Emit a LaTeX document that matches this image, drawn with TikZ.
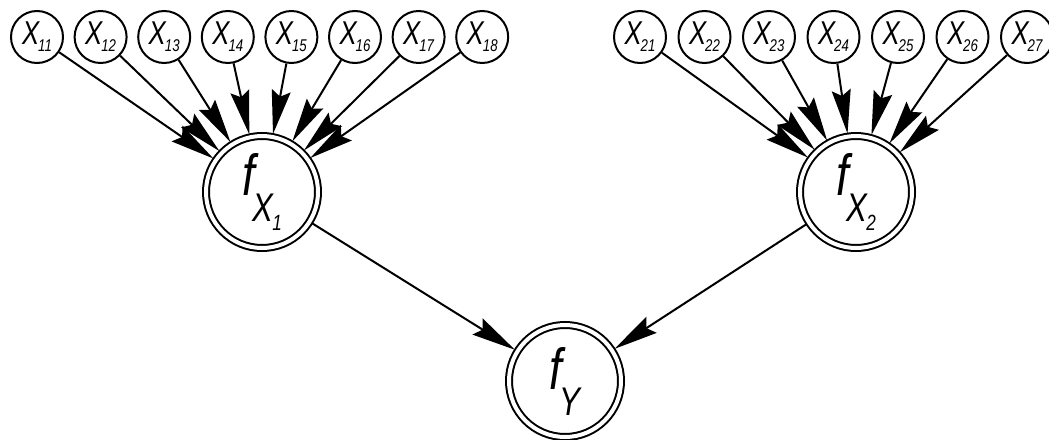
\documentclass[tikz,border=0pt]{standalone}
\usepackage{fontspec}
\newfontfamily\gost[FakeStretch=0.78]{Liberation Sans}
\usetikzlibrary{arrows.meta}
\newcommand{\xs}[1]{{\fontsize{33}{33}\selectfont X}\kern-1pt\raisebox{-7pt}{\fontsize{17}{17}\selectfont #1}}
\newcommand{\fbig}[1]{{\fontsize{58}{58}\selectfont f}\kern-2pt\raisebox{-26pt}{\fontsize{40}{40}\selectfont #1}}
\tikzset{
  small/.style={draw, circle, line width=2pt, minimum size=52pt, inner sep=0pt, font=\gost\itshape},
  big/.style={draw, circle, line width=2pt, double, double distance=4pt, minimum size=112pt, inner sep=0pt, outer sep=3pt, font=\gost\itshape},
  >={Stealth[length=44pt,width=19pt,inset=6pt]},
  arr/.style={line width=2pt, ->}
}
\begin{document}
\begin{tikzpicture}[x=1pt,y=-1pt]
\useasboundingbox (0,0) rectangle (1049,439);
\foreach \i in {1,...,8} {
  \node[small] (x1\i) at ({37+63.6*(\i-1)},37) {\xs{1\i}};
}
\foreach \i in {1,...,7} {
  \node[small] (x2\i) at ({640+64.5*(\i-1)},37) {\xs{2\i}};
}
\node[big] (fx1) at (262,192) {\fbig{X\kern-1pt\raisebox{-9pt}{\fontsize{22}{22}\selectfont 1}}};
\node[big] (fx2) at (856,192) {\fbig{X\kern-1pt\raisebox{-9pt}{\fontsize{22}{22}\selectfont 2}}};
\node[big] (fy) at (565,381) {\fbig{Y}};
\foreach \i in {1,...,8} { \draw[arr] (x1\i) -- (fx1); }
\foreach \i in {1,...,7} { \draw[arr] (x2\i) -- (fx2); }
\draw[arr] (fx1) -- (fy);
\draw[arr] (fx2) -- (fy);
\end{tikzpicture}
\end{document}
